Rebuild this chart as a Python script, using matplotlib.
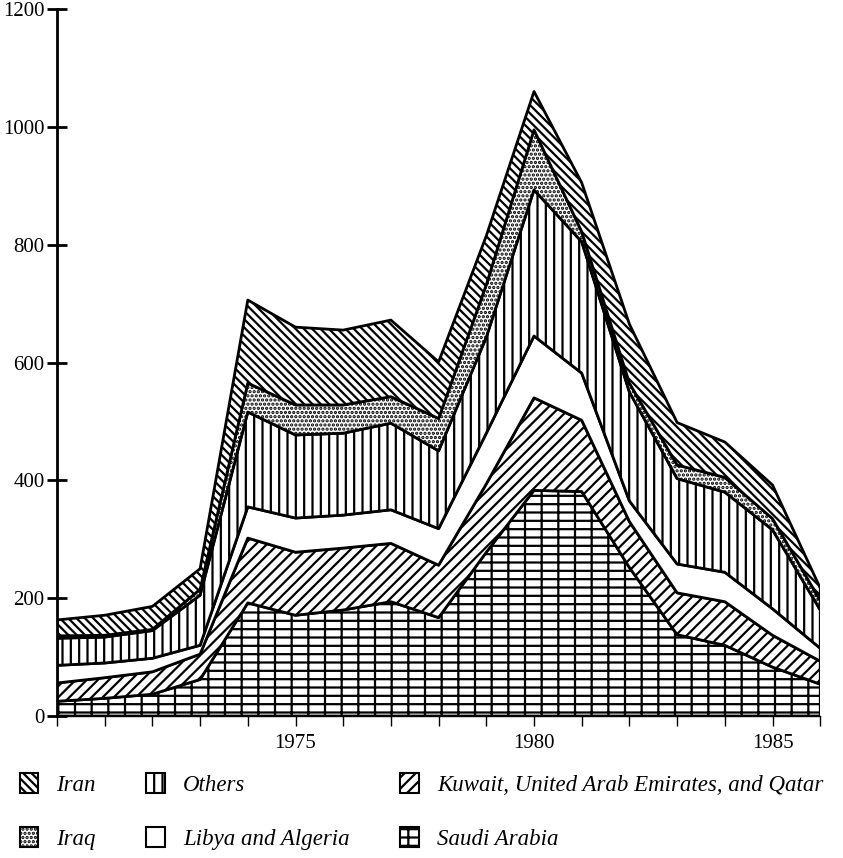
import numpy as np
import matplotlib.pyplot as plt
from matplotlib.patches import Patch

# years on the x axis
years = list(range(1970, 1987))

# each country's own band (stacked bottom to top)
saudi = [25, 30, 37, 62, 192, 171, 180, 194, 167, 278, 383, 381, 252, 138, 120, 83, 54]
kuwait = [31, 35, 38, 43, 110, 107, 105, 99, 89, 116, 157, 121, 78, 71, 74, 54, 39]
libya = [30, 25, 23, 15, 53, 58, 56, 57, 62, 86, 105, 80, 35, 49, 50, 45, 22]
others = [46, 44, 47, 85, 161, 141, 139, 147, 132, 163, 248, 223, 185, 145, 136, 134, 65]
iraq = [4, 3, 2, 10, 49, 51, 48, 45, 55, 89, 102, 17, 15, 23, 25, 19, 16]
iran = [27, 34, 39, 35, 141, 132, 127, 130, 96, 83, 65, 83, 100, 72, 60, 57, 21]

plt.rcParams['font.family'] = ['Liberation Serif', 'DejaVu Serif']
plt.rcParams['hatch.linewidth'] = 1.6

fig = plt.figure(figsize=(8.43, 8.58), dpi=100)
ax = fig.add_axes([0.0676, 0.1655, 0.9054, 0.824])

layers = [
    (saudi, '|--', 'Saudi Arabia'),
    (kuwait, '///', 'Kuwait, United Arab Emirates, and Qatar'),
    (libya, '', 'Libya and Algeria'),
    (others, '||', 'Others'),
    (iraq, '....', 'Iraq'),
    (iran, '\\\\\\\\', 'Iran'),
]

bottom = np.zeros(len(years))
patches = {}
for vals, hatch, name in layers:
    top = bottom + np.array(vals)
    ax.fill_between(years, bottom, top, facecolor='white', edgecolor='black',
                    hatch=hatch, linewidth=2)
    patches[name] = Patch(facecolor='white', edgecolor='black', hatch=hatch, linewidth=1.5)
    bottom = top

ax.set_xlim(1970, 1986)
ax.set_ylim(0, 1200)
ax.spines['top'].set_visible(False)
ax.spines['right'].set_visible(False)
ax.spines['left'].set_linewidth(2)
ax.spines['bottom'].set_linewidth(1)

ax.set_yticks(range(0, 1201, 200))
ax.tick_params(axis='y', direction='inout', length=14, width=2, labelsize=15, pad=2)
ax.set_xticks([1975, 1980, 1985])
ax.set_xticks(years, minor=True)
ax.tick_params(axis='x', which='both', direction='out', length=7, width=1, labelsize=15, pad=6)

order = ['Iran', 'Iraq', 'Others', 'Libya and Algeria',
         'Kuwait, United Arab Emirates, and Qatar', 'Saudi Arabia']
fig.legend([patches[n] for n in order], order, ncol=3, loc='upper left',
           bbox_to_anchor=(0.010, 0.112), frameon=False, borderpad=0,
           prop=dict(family='Liberation Serif', style='italic', size=16.5),
           handlelength=0.8, handleheight=0.95, handletextpad=0.8,
           columnspacing=2.2, labelspacing=1.36)

fig.savefig('out.png', dpi=100)
